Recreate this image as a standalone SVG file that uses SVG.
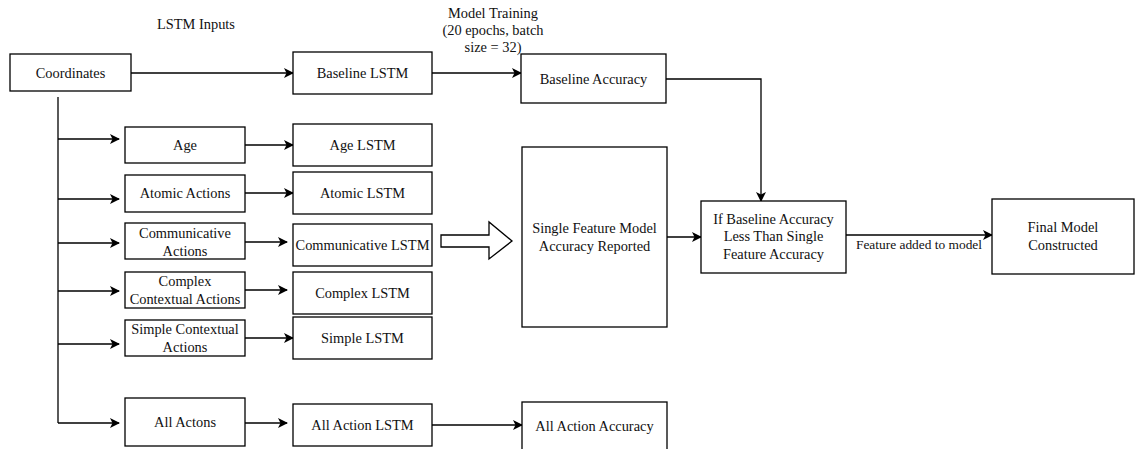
<svg xmlns="http://www.w3.org/2000/svg" width="1135" height="449" viewBox="0 0 1135 449">
<style>
.box{fill:#fff;stroke:#000;stroke-width:1.3}
.t{font-family:"Liberation Serif","Times New Roman",serif;font-size:14.4px;fill:#111;text-anchor:middle}
.s{font-size:13.4px}
.c{fill:none;stroke:#000;stroke-width:1.3}
.a{marker-end:url(#ah)}
</style>
<defs>
<marker id="ah" viewBox="0 0 10 10" refX="9" refY="5" markerWidth="10" markerHeight="10" markerUnits="userSpaceOnUse" orient="auto">
<path d="M0,0 L10,5 L0,10 L2.5,5 Z" fill="#000"/>
</marker>
</defs>
<text class="t" x="196" y="29">LSTM Inputs</text>
<text class="t" x="493" y="18">Model Training</text>
<text class="t" x="493" y="35">(20 epochs, batch</text>
<text class="t" x="493" y="52">size = 32)</text>
<g id="connectors">
<path class="c a" d="M131,73 H293"/>
<path class="c a" d="M432,73 H521"/>
<path class="c a" d="M666,79 H761 V201"/>
<path class="c" d="M58,97 V423"/>
<path class="c a" d="M58,139 H119"/>
<path class="c a" d="M58,199 H119"/>
<path class="c a" d="M58,243 H119"/>
<path class="c a" d="M58,291 H119"/>
<path class="c a" d="M58,344 H119"/>
<path class="c a" d="M58,423 H119"/>
<path class="c a" d="M245,145 H293"/>
<path class="c a" d="M245,193 H293"/>
<path class="c a" d="M245,242 H287"/>
<path class="c a" d="M245,290 H287"/>
<path class="c a" d="M245,338 H293"/>
<path class="c a" d="M245,423 H287"/>
<path class="c a" d="M432,425 H522"/>
<path class="c a" d="M667,237 H701"/>
<path class="c a" d="M846,235 H992"/>
<polygon class="box" points="441,235 489,235 489,222 512,241 489,259 489,247 441,247"/>
<text class="t s" x="919" y="249">Feature added to model</text>
</g>
<g id="coordinates"><rect class="box" x="10" y="54" width="121" height="37"/><text class="t" x="70.5" y="78">Coordinates</text></g>
<g id="baseline-lstm"><rect class="box" x="293" y="52" width="139" height="42"/><text class="t" x="362.5" y="78">Baseline LSTM</text></g>
<g id="baseline-accuracy"><rect class="box" x="521" y="54" width="145" height="49"/><text class="t" x="593.5" y="84">Baseline Accuracy</text></g>
<g id="age"><rect class="box" x="125" y="127" width="120" height="36"/><text class="t" x="185" y="150">Age</text></g>
<g id="atomic-actions"><rect class="box" x="125" y="175" width="120" height="37"/><text class="t" x="185" y="198">Atomic Actions</text></g>
<g id="communicative-actions"><rect class="box" x="125" y="223" width="120" height="36"/><text class="t" x="185" y="238">Communicative</text><text class="t" x="185" y="256">Actions</text></g>
<g id="complex-contextual-actions"><rect class="box" x="125" y="272" width="120" height="36"/><text class="t" x="185" y="286">Complex</text><text class="t" x="185" y="304">Contextual Actions</text></g>
<g id="simple-contextual-actions"><rect class="box" x="125" y="320" width="120" height="36"/><text class="t" x="185" y="334">Simple Contextual</text><text class="t" x="185" y="352">Actions</text></g>
<g id="all-actons"><rect class="box" x="125" y="398" width="120" height="48"/><text class="t" x="185" y="427">All Actons</text></g>
<g id="age-lstm"><rect class="box" x="293" y="124" width="139" height="42"/><text class="t" x="362.5" y="150">Age LSTM</text></g>
<g id="atomic-lstm"><rect class="box" x="293" y="172" width="139" height="42"/><text class="t" x="362.5" y="198">Atomic LSTM</text></g>
<g id="communicative-lstm"><rect class="box" x="293" y="224" width="139" height="42"/><text class="t" x="362.5" y="250">Communicative LSTM</text></g>
<g id="complex-lstm"><rect class="box" x="293" y="272" width="139" height="42"/><text class="t" x="362.5" y="298">Complex LSTM</text></g>
<g id="simple-lstm"><rect class="box" x="293" y="317" width="139" height="42"/><text class="t" x="362.5" y="343">Simple LSTM</text></g>
<g id="all-action-lstm"><rect class="box" x="293" y="404" width="139" height="42"/><text class="t" x="362.5" y="430">All Action LSTM</text></g>
<g id="single-feature"><rect class="box" x="522" y="147" width="145" height="180"/><text class="t" x="594.5" y="233">Single Feature Model</text><text class="t" x="594.5" y="251">Accuracy Reported</text></g>
<g id="all-action-accuracy"><rect class="box" x="522" y="402" width="145" height="60"/><text class="t" x="594.5" y="431">All Action Accuracy</text></g>
<g id="if-baseline"><rect class="box" x="701" y="201" width="145" height="72"/><text class="t" x="773.5" y="224">If Baseline Accuracy</text><text class="t" x="773.5" y="241">Less Than Single</text><text class="t" x="773.5" y="259">Feature Accuracy</text></g>
<g id="final-model"><rect class="box" x="992" y="199" width="142" height="75"/><text class="t" x="1063" y="232">Final Model</text><text class="t" x="1063" y="250">Constructed</text></g>
</svg>
